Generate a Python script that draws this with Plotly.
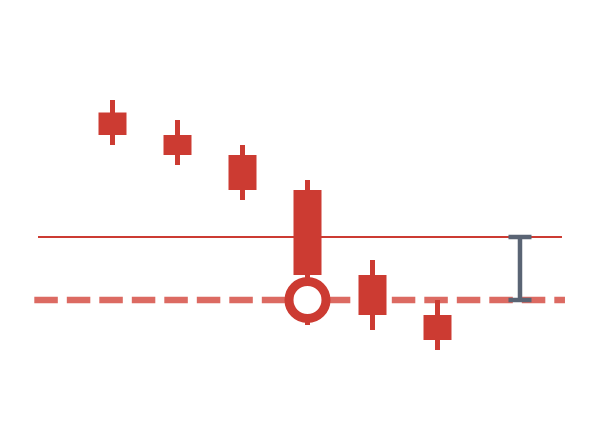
import plotly.graph_objects as go

# candle data (arbitrary units)
cand_x = [1, 2, 3, 4, 5, 6]
cand_high = [65, 61, 56, 49, 33, 25]
cand_top = [62.5, 58, 54, 47, 30, 22]
cand_bottom = [58, 54, 47, 30, 22, 17]
cand_low = [56, 52, 45, 20, 19, 15]

ref_line_x = [-0.146, 7.915]
ref_line_y = [37.6, 37.6]
target_line_x = [-0.203, 7.961]
target_line_y = [25, 25]

marker_x = [4]
marker_y = [25]

gap_x = [7.269]
gap_low = [25]
gap_high = [37.6]

RED = "#cc3b32"
RED_LIGHT = "#dc6a62"
GRAY = "#5a6474"


def segments(xs, y1, y2):
    px, py = [], []
    for x, a, b in zip(xs, y1, y2):
        px += [x, x, None]
        py += [a, b, None]
    return px, py


fig = go.Figure()

fig.add_trace(go.Scatter(x=target_line_x, y=target_line_y, mode="lines",
                         line=dict(color=RED_LIGHT, width=6.5, dash="23.5px,9px"),
                         hoverinfo="skip", showlegend=False))
fig.add_trace(go.Scatter(x=ref_line_x, y=ref_line_y, mode="lines",
                         line=dict(color=RED, width=2),
                         hoverinfo="skip", showlegend=False))

wx, wy = segments(cand_x, cand_low, cand_high)
fig.add_trace(go.Scatter(x=wx, y=wy, mode="lines",
                         line=dict(color=RED, width=5),
                         showlegend=False))
bx, by = segments(cand_x, cand_bottom, cand_top)
fig.add_trace(go.Scatter(x=bx, y=by, mode="lines",
                         line=dict(color=RED, width=28),
                         showlegend=False))

fig.add_trace(go.Scatter(x=marker_x, y=marker_y, mode="markers",
                         marker=dict(size=37, color="white",
                                     line=dict(color=RED, width=9)),
                         showlegend=False))

fig.add_trace(go.Scatter(x=gap_x, y=gap_low, mode="markers",
                         marker=dict(size=1, color="rgba(0,0,0,0)"),
                         error_y=dict(type="data", symmetric=False,
                                      array=[h - l for h, l in zip(gap_high, gap_low)],
                                      arrayminus=[0], color=GRAY,
                                      thickness=4.5, width=11.5),
                         showlegend=False))

fig.update_layout(
    width=600, height=425,
    margin=dict(l=0, r=0, t=0, b=0),
    paper_bgcolor="white", plot_bgcolor="white",
    xaxis=dict(range=[-0.6077, 8.623], visible=False, fixedrange=True),
    yaxis=dict(range=[-1.6, 83.4], visible=False, fixedrange=True),
    showlegend=False,
)

fig.write_html("out.html")
